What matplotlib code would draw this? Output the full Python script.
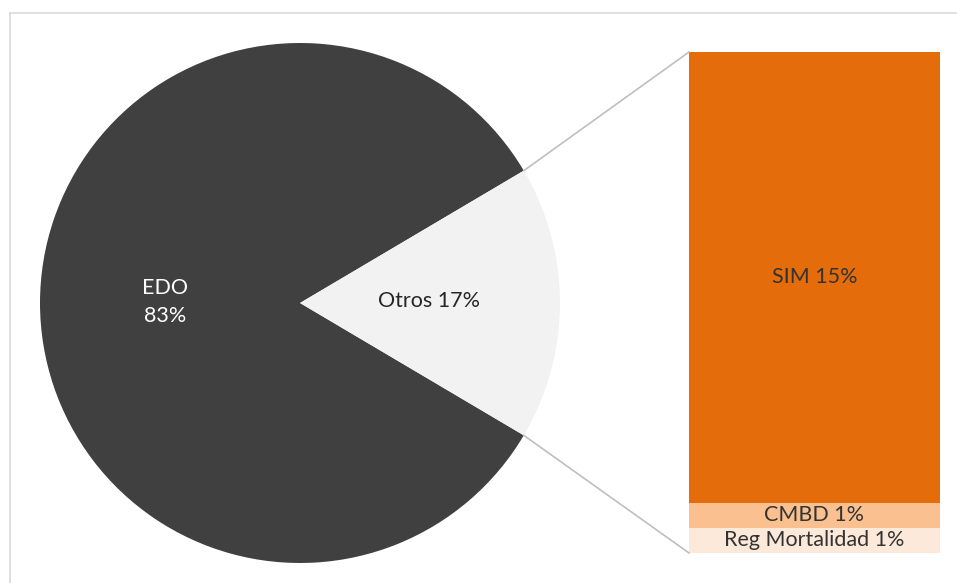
import numpy as np
import matplotlib.pyplot as plt
from matplotlib.lines import Line2D

# pie: main sources
pie_labels = ['EDO', 'Otros']
# bar: breakdown of "Otros"
sub_labels = ['SIM', 'CMBD', 'Reg Mortalidad']
sub_values = [15.3, 0.85, 0.85]

otros = sum(sub_values)
pie_values = [100 - otros, otros]

pie_colors = ['#404040', '#f2f2f2']
sub_colors = ['#e46c0a', '#fac090', '#fde9d9']

W, H = 957, 583
fig = plt.figure(figsize=(W / 100, H / 100), dpi=100)
ax = fig.add_axes([0, 0, 1, 1])
plt.rcParams['font.family'] = ['Lato', 'DejaVu Sans']
fs = 15.5

# pie, drawn in pixel units (y up)
cx, cy, r = 300, H - 303, 260
start = 360 * otros / 100 / 2
wedges, _ = ax.pie(pie_values, colors=pie_colors, startangle=start, center=(cx, cy), radius=r,
                   wedgeprops=dict(linewidth=0), frame=True)

# stacked bar for the "Otros" slice
bx0, bx1 = 689, 940
by0, by1 = H - 553, H - 52
scale = (by1 - by0) / otros
bottom = by0
for lab, val, col in zip(sub_labels[::-1], sub_values[::-1], sub_colors[::-1]):
    ax.bar((bx0 + bx1) / 2, val * scale, width=bx1 - bx0, bottom=bottom, color=col, linewidth=0)
    mid = bottom + val * scale / 2
    ax.text((bx0 + bx1) / 2, mid, f'{lab} {val:.0f}%', ha='center', va='center',
            fontsize=fs, color='#333333')
    bottom += val * scale

# connector lines from the slice edges to the bar
w = wedges[1]
for ang, ty in [(w.theta1, by0), (w.theta2, by1)]:
    px = cx + r * np.cos(np.radians(ang))
    py = cy + r * np.sin(np.radians(ang))
    ax.plot([px, bx0], [py, ty], color='#bfbfbf', linewidth=1.2)

# slice labels
ax.text(cx - 135, cy + 1, f'{pie_labels[0]}\n{pie_values[0]:.0f}%', ha='center', va='center',
        fontsize=fs, color='white', linespacing=1.45)
ax.text(cx + 129, cy + 2, f'{pie_labels[1]} {pie_values[1]:.0f}%', ha='center', va='center',
        fontsize=fs, color='#262626')

# chart area border (top and left)
ax.add_line(Line2D([10, 956], [H - 13, H - 13], color='#d9d9d9', linewidth=1.2))
ax.add_line(Line2D([10, 10], [0, H - 13], color='#d9d9d9', linewidth=1.2))

ax.set_xlim(0, W)
ax.set_ylim(0, H)
ax.set_aspect('auto')
ax.axis('off')

plt.savefig('out.png', dpi=100)
